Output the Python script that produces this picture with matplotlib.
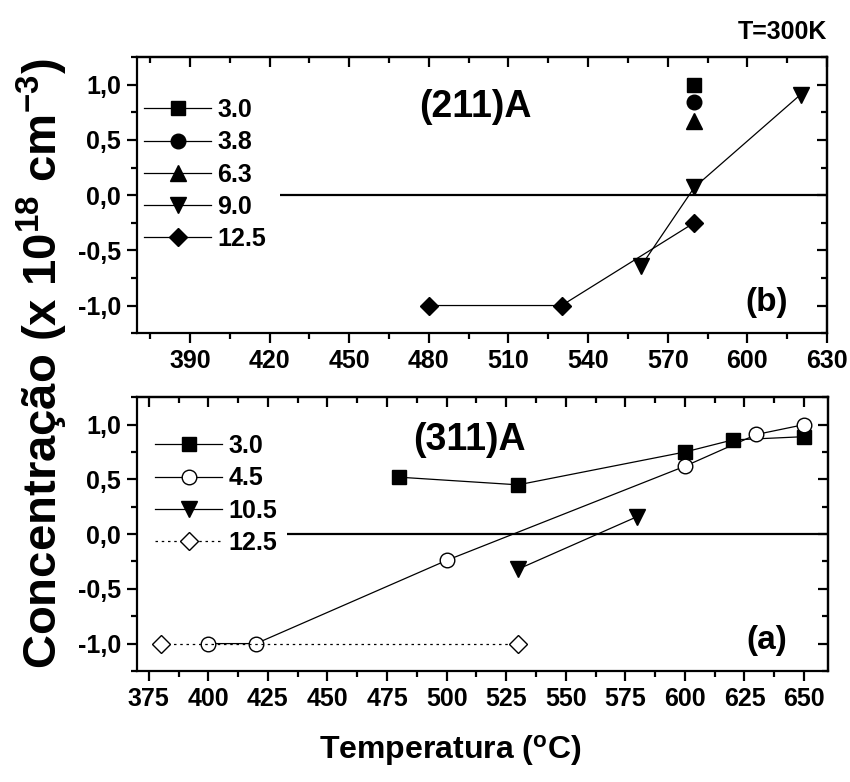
import numpy as np
import matplotlib.pyplot as plt
from matplotlib.ticker import MultipleLocator, FuncFormatter

plt.rcParams['font.family'] = ['Liberation Sans', 'DejaVu Sans']
plt.rcParams['font.weight'] = 'bold'
plt.rcParams['mathtext.fontset'] = 'custom'
plt.rcParams['mathtext.rm'] = 'Liberation Sans:bold'
plt.rcParams['mathtext.bf'] = 'Liberation Sans:bold'

# (211)A panel
t211_30 = [580]; c211_30 = [1.0]
t211_38 = [580]; c211_38 = [0.84]
t211_63 = [580]; c211_63 = [0.67]
t211_90 = [560, 580, 620]; c211_90 = [-0.64, 0.07, 0.91]
t211_125 = [480, 530, 580]; c211_125 = [-1.0, -1.0, -0.25]

# (311)A panel
t311_30 = [480, 530, 600, 620, 650]; c311_30 = [0.52, 0.45, 0.75, 0.86, 0.89]
t311_45 = [400, 420, 500, 600, 630, 650]; c311_45 = [-1.0, -1.0, -0.24, 0.62, 0.91, 1.0]
t311_105 = [530, 580]; c311_105 = [-0.32, 0.16]
t311_125 = [380, 530]; c311_125 = [-1.0, -1.0]

fig = plt.figure(figsize=(8.5, 7.82), dpi=100)
axb = fig.add_axes([0.161, 0.574, 0.812, 0.353])
axa = fig.add_axes([0.161, 0.142, 0.813, 0.350])

comma = FuncFormatter(lambda v, p: '{:.1f}'.format(v).replace('.', ','))
fs = 18
lw = 0.9
fw = 1.6

def style(ax, xmaj, xmin):
    ax.set_ylim(-1.25, 1.25)
    ax.yaxis.set_major_locator(MultipleLocator(0.5))
    ax.yaxis.set_minor_locator(MultipleLocator(0.25))
    ax.yaxis.set_major_formatter(comma)
    ax.xaxis.set_major_locator(MultipleLocator(xmaj))
    ax.xaxis.set_minor_locator(MultipleLocator(xmin))
    for s in ax.spines.values():
        s.set_linewidth(fw)
    ax.tick_params(which='both', width=fw, labelsize=fs, direction='out',
                   top=False, right=False)
    ax.tick_params(which='major', length=7.5, pad=4)
    ax.tick_params(which='minor', length=4.5)
    for t in ax.xaxis.get_ticklabels() + ax.yaxis.get_ticklabels():
        t.set_fontweight('bold')
    # mirrored ticks on top/right point inward
    ax2 = ax.secondary_xaxis('top')
    ax2.xaxis.set_major_locator(MultipleLocator(xmaj))
    ax2.xaxis.set_minor_locator(MultipleLocator(xmin))
    ax2.tick_params(which='both', direction='in', width=fw, labeltop=False)
    ax2.tick_params(which='major', length=7.5)
    ax2.tick_params(which='minor', length=4.5)
    ax2.spines['top'].set_linewidth(fw)
    ay2 = ax.secondary_yaxis('right')
    ay2.yaxis.set_major_locator(MultipleLocator(0.5))
    ay2.yaxis.set_minor_locator(MultipleLocator(0.25))
    ay2.tick_params(which='both', direction='in', width=fw, labelright=False)
    ay2.tick_params(which='major', length=7.5)
    ay2.tick_params(which='minor', length=4.5)
    ay2.spines['right'].set_linewidth(fw)

style(axb, 30, 15)
axb.set_xlim(370, 630)
style(axa, 25, 12.5)
axa.set_xlim(370, 660)

k = 'black'
axb.plot(t211_30, c211_30, 's', color=k, ms=9.5, label='3.0')
axb.plot(t211_38, c211_38, 'o', color=k, ms=10.5, label='3.8')
axb.plot(t211_63, c211_63, '^', color=k, ms=12, label='6.3')
axb.plot(t211_90, c211_90, 'v-', color=k, lw=lw, ms=12, label='9.0')
axb.plot(t211_125, c211_125, 'D-', color=k, lw=lw, ms=9.5, label='12.5')
axb.hlines(0, 424, 630, color=k, lw=fw)

axa.plot(t311_30, c311_30, 's-', color=k, lw=lw, ms=9.5, label='3.0')
axa.plot(t311_45, c311_45, 'o-', color=k, lw=lw, ms=10.5, mfc='white', label='4.5')
axa.plot(t311_105, c311_105, 'v-', color=k, lw=lw, ms=12, label='10.5')
axa.plot(t311_125, c311_125, 'D', ls=(0, (2, 3)), color=k, lw=lw, ms=9.5, mfc='white',
         label='12.5', zorder=3)
axa.hlines(0, 433, 660, color=k, lw=fw)

# legends: every entry drawn with a line through the marker
for ax, anchor in ((axb, (0.010, 0.851)), (axa, (0.026, 0.865))):
    h, l = ax.get_legend_handles_labels()
    for hh in h:
        if hh.get_linestyle() == 'None':
            hh.set_linestyle('-')
            hh.set_linewidth(lw)
    leg = ax.legend(loc='upper left', bbox_to_anchor=anchor, frameon=False,
                    fontsize=fs, handlelength=2.7, handletextpad=0.25,
                    labelspacing=0.33, borderaxespad=0, borderpad=0, numpoints=1)
    for t in leg.get_texts():
        t.set_fontweight('bold')

axb.text(0.49, 0.819, '(211)A', transform=axb.transAxes, ha='center', va='center',
         fontsize=27, fontweight='bold')
axb.text(0.913, 0.112, '(b)', transform=axb.transAxes, ha='center', va='center',
         fontsize=24, fontweight='bold')
axa.text(0.482, 0.843, '(311)A', transform=axa.transAxes, ha='center', va='center',
         fontsize=27, fontweight='bold')
axa.text(0.912, 0.113, '(a)', transform=axa.transAxes, ha='center', va='center',
         fontsize=24, fontweight='bold')

fig.text(0.921, 0.959, 'T=300K', ha='center', va='center', fontsize=18, fontweight='bold')
fig.text(0.05, 0.535, r'Concentração (x 10$\mathregular{^{18}}$ cm$\mathregular{^{-3}}$)',
         rotation=90, ha='center', va='center', fontsize=34, fontweight='bold')
fig.text(0.53, 0.04, r'Temperatura ($\mathregular{^o}$C)', ha='center', va='center',
         fontsize=23, fontweight='bold')

fig.savefig('out.png', dpi=100)
